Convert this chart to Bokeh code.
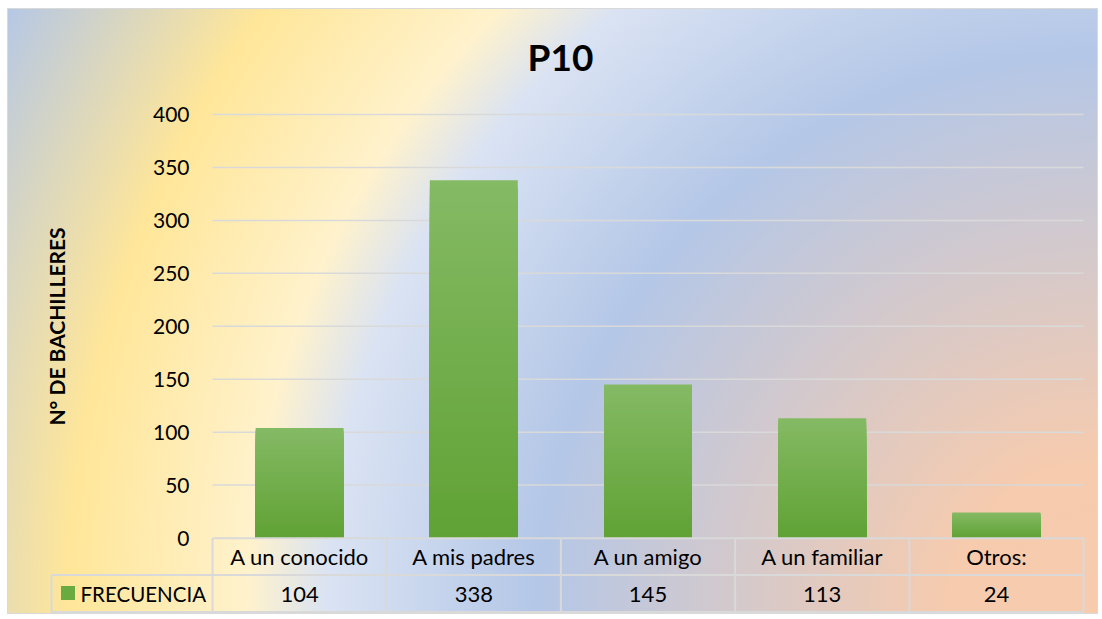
import math

from bokeh.core.properties import value
from bokeh.embed import file_html
from bokeh.models import Range1d
from bokeh.plotting import figure
from bokeh.resources import INLINE

# ---- data -------------------------------------------------------------
title_text = "P10"
categories = ["A un conocido", "A mis padres", "A un amigo", "A un familiar", "Otros:"]
frecuencia = [104, 338, 145, 113, 24]
series_name = "FRECUENCIA"
y_ticks = [0, 50, 100, 150, 200, 250, 300, 350, 400]
y_axis_title = "N\u00b0 DE BACHILLERES"

# ---- layout (pixels on the 1102 x 619 canvas) ---------------------------
W, H = 1102, 619
PLOT_L, PLOT_R = 212, 1083          # plot area left/right edges
PY_ZERO, PY_TOP = 537.5, 114.0      # pixel rows of y = 0 and y = 400
Y_TOP_VALUE = 400
band = (PLOT_R - PLOT_L) / len(categories)
ky = (PY_ZERO - PY_TOP) / Y_TOP_VALUE


def xd(px):
    """canvas pixel column -> data x (one unit per category band)"""
    return (px - PLOT_L) / band


def yd(py):
    """canvas pixel row -> data y"""
    return (PY_ZERO - py) / ky


FONT = value("Lato")
TEXT_COLOR = "#000000"
LINE_COLOR = "#d9d9d9"

p = figure(
    width=W, height=H,
    x_range=Range1d(xd(0), xd(W)), y_range=Range1d(yd(H), yd(0)),
    x_axis_type=None, y_axis_type=None,
    toolbar_location=None, output_backend="svg",
    min_border=0,
)
p.background_fill_color = None
p.border_fill_color = None
p.outline_line_color = None

# chart-area fill: radial blend out of the lower-right corner, thin grey frame
p.styles = {
    "background-color": "white",
    "background-image": (
        "radial-gradient(circle farthest-corner at 100% 100%, "
        "#f8cbad 0px, #f6cbae 150px, #b4c7e7 560px, #dae3f3 770px, "
        "#fff2cc 850px, #ffe699 1028px, #b4c7e7 1250px), "
        "linear-gradient(#d9d9d9, #d9d9d9)"
    ),
    "background-size": "1089px 604px, 1091px 606px",
    "background-position": "8px 9px, 7px 8px",
    "background-repeat": "no-repeat",
}

n_cat = len(categories)
centers = [i + 0.5 for i in range(n_cat)]

# horizontal gridlines (the 0 line is the table's top edge)
grid_vals = [t for t in y_ticks if t > 0]
p.segment(x0=[0] * len(grid_vals), x1=[n_cat] * len(grid_vals),
          y0=grid_vals, y1=grid_vals, line_color=LINE_COLOR, line_width=1.5)

# bars with a vertical light-to-dark green gradient (layered slices)
top_rgb = (133, 186, 101)
bot_rgb = (96, 162, 52)
N = 48
bx, btop, bcol = [], [], []
for k in range(N):
    frac = (N - k) / N
    h = (N - k - 0.5) / N
    rgb = tuple(round(b + (t - b) * h) for t, b in zip(top_rgb, bot_rgb))
    col = "#%02x%02x%02x" % rgb
    for c, v in zip(centers, frecuencia):
        bx.append(c)
        btop.append(v * frac)
        bcol.append(col)
p.vbar(x=bx, top=btop, bottom=0, width=0.505, fill_color=bcol, line_color=None)

# y tick labels
p.text(x=[xd(189)] * len(y_ticks), y=y_ticks, text=[str(t) for t in y_ticks],
       text_font=FONT, text_font_size="21px", text_color=TEXT_COLOR,
       text_align="right", text_baseline="middle")

# y axis title
p.text(x=[xd(56)], y=[yd(326)], text=[y_axis_title], angle=math.pi / 2,
       text_font=FONT, text_font_size="21px", text_font_style="bold",
       text_color=TEXT_COLOR, text_align="center", text_baseline="middle")

# chart title
p.text(x=[xd(560)], y=[yd(56)], text=[title_text],
       text_font=FONT, text_font_size="37px", text_font_style="bold",
       text_color="#000000", text_align="center", text_baseline="middle")

# ---- data table under the plot ---------------------------------------
ROW0, ROW1, ROW2 = yd(537.7), yd(574.5), yd(611.5)
LEG_L = xd(51)
hx0 = [0, LEG_L, LEG_L]
hx1 = [n_cat, n_cat, n_cat]
hy = [ROW0, ROW1, ROW2]
p.segment(x0=hx0, x1=hx1, y0=hy, y1=hy, line_color=LINE_COLOR, line_width=2)
vx = list(range(n_cat + 1))
p.segment(x0=vx, x1=vx, y0=[ROW0] * len(vx), y1=[ROW2] * len(vx),
          line_color=LINE_COLOR, line_width=2)
p.segment(x0=[LEG_L], x1=[LEG_L], y0=[ROW1], y1=[ROW2],
          line_color=LINE_COLOR, line_width=2)

p.text(x=centers, y=[yd(556)] * n_cat, text=categories,
       text_font=FONT, text_font_size="22px", text_color=TEXT_COLOR,
       text_align="center", text_baseline="middle")
p.text(x=centers, y=[yd(593.5)] * n_cat, text=[str(v) for v in frecuencia],
       text_font=FONT, text_font_size="22px", text_color=TEXT_COLOR,
       text_align="center", text_baseline="middle")

# legend key inside the table
p.scatter(x=[xd(67.5)], y=[yd(592.5)], marker="square", size=14,
          fill_color="#6aab3f", line_color=None)
p.text(x=[xd(80)], y=[yd(593.5)], text=[series_name],
       text_font=FONT, text_font_size="20.5px", text_color=TEXT_COLOR,
       text_align="left", text_baseline="middle")

open("out.html", "w").write(file_html(p, INLINE))
